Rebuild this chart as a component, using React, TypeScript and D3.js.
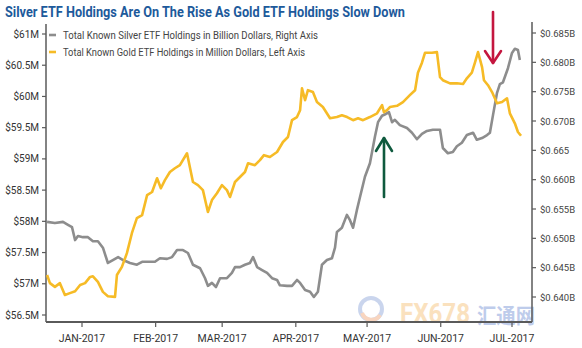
import React from "react";
import * as d3 from "d3";

// ---- Data (days offset from 2017-01-01) ----
const goldDays = [-14.7,-13.5,-11.4,-9.3,-7.2,-5.1,-2.9,-0.8,1.3,3.4,4.6,6.7,8.8,10.9,13.9,14.7,16.8,18.9,21.0,23.1,25.3,27.4,29.5,31.6,33.2,34.9,37.0,39.1,41.2,44.2,46.7,48.8,50.9,53.0,54.7,56.8,58.9,61.0,62.3,64.4,66.5,68.6,69.9,72.8,74.9,76.6,79.1,82.1,84.6,86.7,88.4,90.5,91.8,92.6,93.9,95.1,97.2,98.9,101.4,104.4,107.3,109.4,111.6,114.1,116.2,118.3,121.2,124.2,126.3,127.1,128.4,129.6,132.6,135.1,138.0,140.2,141.4,143.1,144.4,147.3,149.4,150.7,151.9,154.9,157.8,160.4,162.0,164.1,165.4,166.7,168.4,169.2,170.9,172.6,174.7,176.8,178.9,180.1,182.2,183.5,184.8];
const goldValues = [57.14,57.01,56.95,57.01,56.82,56.85,56.88,56.98,57.01,57.11,57.12,57.03,56.87,56.80,56.79,57.14,57.27,57.49,57.81,58.05,58.10,58.42,58.47,58.69,58.53,58.66,58.79,58.85,58.90,59.09,58.63,58.58,58.50,58.15,58.34,58.45,58.58,58.50,58.39,58.63,58.71,58.79,58.93,58.90,58.98,59.06,59.03,59.11,59.27,59.35,59.62,59.67,59.78,60.13,59.94,60.10,60.07,59.91,59.83,59.65,59.67,59.70,59.67,59.62,59.65,59.62,59.67,59.73,59.86,59.75,59.78,59.83,59.85,59.91,60.02,60.10,60.38,60.54,60.70,60.70,60.71,60.31,60.26,60.21,60.21,60.20,60.29,60.38,60.54,60.71,60.47,60.26,60.18,60.07,59.89,59.91,59.97,59.73,59.57,59.43,59.37];

const silverDays = [-14.7,-11.4,-8.0,-5.9,-4.2,-2.9,-1.7,0.4,2.5,4.6,6.7,8.8,10.9,13.0,15.2,17.3,20.2,23.1,25.3,27.4,30.7,32.8,35.8,37.9,40.0,42.5,44.6,46.7,49.7,51.8,53.0,54.7,56.4,58.1,61.0,63.1,64.4,66.5,68.6,70.7,72.0,73.7,75.8,77.9,80.0,82.1,83.3,86.3,88.4,90.5,91.8,93.9,96.0,97.6,99.3,101.0,103.1,105.2,106.5,107.3,109.4,111.5,112.8,114.1,115.7,117.0,119.1,121.2,123.3,124.6,126.3,127.9,129.2,130.5,131.7,133.8,136.8,138.9,141.0,143.1,145.2,147.7,150.7,151.9,154.0,156.1,157.8,159.9,162.0,164.6,166.2,168.4,170.5,171.7,173.0,174.7,175.9,177.2,179.3,181.0,182.2,183.5,184.3];
const silverValues = [0.6528,0.6526,0.6528,0.6523,0.6519,0.6497,0.6504,0.6502,0.6502,0.6495,0.6495,0.6484,0.6458,0.6463,0.6468,0.6463,0.6458,0.6455,0.6460,0.6460,0.6460,0.6466,0.6465,0.6468,0.6480,0.6480,0.6475,0.6455,0.6449,0.6432,0.6419,0.6424,0.6417,0.6432,0.6432,0.6441,0.6451,0.6451,0.6455,0.6458,0.6468,0.6451,0.6446,0.6441,0.6432,0.6429,0.6420,0.6419,0.6419,0.6429,0.6424,0.6412,0.6409,0.6400,0.6409,0.6455,0.6463,0.6466,0.6484,0.6511,0.6518,0.6540,0.6531,0.6518,0.6548,0.6570,0.6605,0.6628,0.6673,0.6698,0.6709,0.6712,0.6715,0.6698,0.6702,0.6693,0.6688,0.6680,0.6669,0.6678,0.6683,0.6685,0.6685,0.6654,0.6645,0.6647,0.6657,0.6663,0.6676,0.6680,0.6668,0.6671,0.6676,0.6680,0.6710,0.6748,0.6763,0.6766,0.6790,0.6816,0.6823,0.6821,0.6804];

const leftTicks = [56.5, 57, 57.5, 58, 58.5, 59, 59.5, 60, 60.5, 61];
const leftTickLabels = ["$56.5M", "$57M", "$57.5M", "$58M", "$58.5M", "$59M", "$59.5M", "$60M", "$60.5M", "$61M"];
const rightTicks = [0.64, 0.645, 0.65, 0.655, 0.66, 0.665, 0.67, 0.675, 0.68, 0.685];
const rightTickLabels = ["$0.640B", "$0.645B", "$0.650B", "$0.655B", "$0.660B", "$0.665", "$0.670B", "$0.675B", "$0.680B", "$0.685B"];
const monthTicks = ["2017-01-01", "2017-02-01", "2017-03-01", "2017-04-01", "2017-05-01", "2017-06-01", "2017-07-01"];
const monthLabels = ["JAN-2017", "FEB-2017", "MAR-2017", "APR-2017", "MAY-2017", "JUN-2017", "JUL-2017"];

const title = "Silver ETF Holdings Are On The Rise As Gold ETF Holdings Slow Down";
const legendSilver = "Total Known Silver ETF Holdings in Billion Dollars, Right Axis";
const legendGold = "Total Known Gold ETF Holdings in Million Dollars, Left Axis";

const W = 582, H = 348;
const GOLD = "#f6bb26";
const SILVER = "#8d8d8d";
const AXIS = "#5a5a5a";
const FONT = "'Liberation Sans Narrow', 'Roboto', 'Liberation Sans', sans-serif";

const base = Date.UTC(2017, 0, 1);
const toDate = (d: number) => new Date(base + d * 864e5);
const parse = (s: string) => new Date(s + "T00:00:00Z");

export default function App() {
  const x = d3.scaleUtc().domain([parse("2017-01-01"), parse("2017-07-01")]).range([82, 512]);
  const yL = d3.scaleLinear().domain([56.5, 61]).range([315, 34]);
  const yR = d3.scaleLinear().domain([0.64, 0.685]).range([297, 33]);

  const goldLine = d3.line<number>().x((_, i) => x(toDate(goldDays[i]))).y((v) => yL(v)).curve(d3.curveLinear)(goldValues) || "";
  const silverLine = d3.line<number>().x((_, i) => x(toDate(silverDays[i]))).y((v) => yR(v)).curve(d3.curveLinear)(silverValues) || "";

  const leftX = 46, rightX = 532, bottomY = 322, topY = 24;

  return (
    <svg width={W} height={H} viewBox={`0 0 ${W} ${H}`} style={{ display: "block", position: "absolute", left: 0, top: 0, background: "#fff" }}>
      <rect width={W} height={H} fill="#fff" />
      {/* Title */}
      <text x={5} y={17} fontFamily={FONT} fontWeight={700} fontSize={15.5} fill="#1d5a9b" textLength={400} lengthAdjust="spacingAndGlyphs">{title}</text>

      {/* Watermark */}
      <g opacity={0.55}>
        <circle cx={371} cy={309} r={11} fill="none" stroke="#9fb4e0" strokeWidth={4} />
        <path d="M362,313 A10,10 0 0 0 380,315" fill="none" stroke="#f3b38c" strokeWidth={4} />
        <text x={400} y={323} fontFamily={FONT} fontWeight={700} fontSize={27} fill="#f7c98a" textLength={70} lengthAdjust="spacingAndGlyphs">FX678</text>
        <text x={477} y={323} fontFamily="'Noto Sans CJK SC', sans-serif" fontWeight={700} fontSize={21} fill="#8aa3dc" textLength={58} lengthAdjust="spacingAndGlyphs">汇通网</text>
      </g>

      {/* Axes lines */}
      <line x1={leftX} x2={leftX} y1={topY} y2={bottomY} stroke={AXIS} strokeWidth={1.5} />
      <line x1={rightX} x2={rightX} y1={topY - 2} y2={bottomY} stroke={AXIS} strokeWidth={1.5} />
      <line x1={leftX} x2={rightX} y1={bottomY} y2={bottomY} stroke={AXIS} strokeWidth={1.8} />

      {/* Left ticks */}
      {leftTicks.map((t, i) => (
        <g key={"l" + i}>
          <line x1={leftX - 4} x2={leftX} y1={yL(t)} y2={yL(t)} stroke={AXIS} strokeWidth={1.2} />
          <text x={leftX - 7} y={yL(t) + 3.5} textAnchor="end" fontFamily={FONT} fontSize={10} fill="#333">{leftTickLabels[i]}</text>
        </g>
      ))}
      {/* Right ticks */}
      {rightTicks.map((t, i) => (
        <g key={"r" + i}>
          <line x1={rightX} x2={rightX + 4} y1={yR(t)} y2={yR(t)} stroke={AXIS} strokeWidth={1.2} />
          <text x={rightX + 8} y={yR(t) + 3.5} textAnchor="start" fontFamily={FONT} fontSize={9.5} fill="#444">{rightTickLabels[i]}</text>
        </g>
      ))}
      {/* Bottom ticks */}
      {monthTicks.map((m, i) => (
        <g key={"m" + i}>
          <line x1={x(parse(m))} x2={x(parse(m))} y1={bottomY} y2={bottomY + 5} stroke={AXIS} strokeWidth={1.2} />
          <text x={x(parse(m))} y={342} textAnchor="middle" fontFamily={FONT} fontSize={10.5} fill="#333">{monthLabels[i]}</text>
        </g>
      ))}

      {/* Lines */}
      <path d={silverLine} fill="none" stroke={SILVER} strokeWidth={2.6} strokeLinejoin="round" />
      <path d={goldLine} fill="none" stroke={GOLD} strokeWidth={2.6} strokeLinejoin="round" />

      {/* Legend */}
      <line x1={49} x2={56} y1={35} y2={35} stroke={SILVER} strokeWidth={2.6} />
      <text x={63} y={38.5} fontFamily={FONT} fontSize={10.5} fill="#444" textLength={255} lengthAdjust="spacingAndGlyphs">{legendSilver}</text>
      <line x1={49} x2={56} y1={52} y2={52} stroke={GOLD} strokeWidth={2.6} />
      <text x={63} y={55.5} fontFamily={FONT} fontSize={10.5} fill="#444" textLength={242} lengthAdjust="spacingAndGlyphs">{legendGold}</text>

      {/* Arrows */}
      <g stroke="#c4163f" strokeWidth={2.6} fill="none" strokeLinecap="round" strokeLinejoin="round">
        <line x1={493} x2={493} y1={12} y2={63} />
        <polyline points="485,51 493,63 501,51" />
      </g>
      <g stroke="#0f5a3e" strokeWidth={2.6} fill="none" strokeLinecap="round" strokeLinejoin="round">
        <line x1={384} x2={384} y1={138} y2={197} />
        <polyline points="376,151 384,138 392,151" />
      </g>
    </svg>
  );
}
